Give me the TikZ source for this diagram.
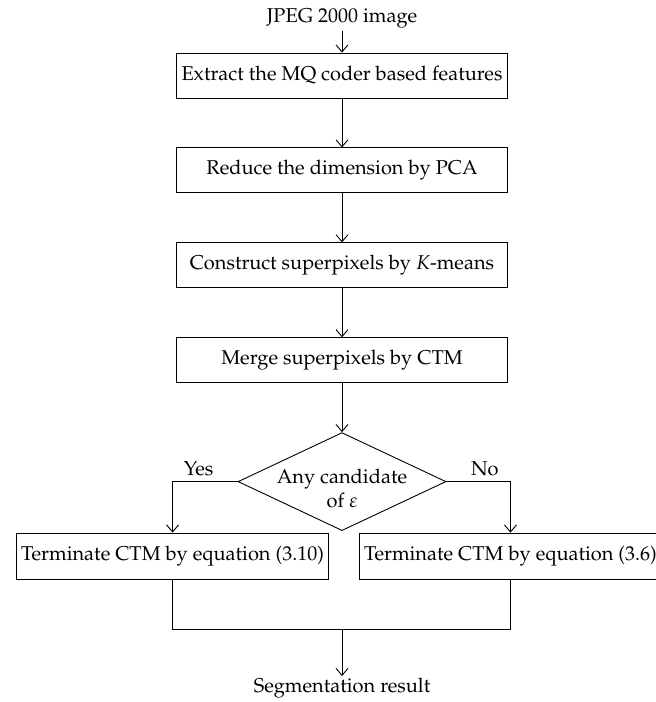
\documentclass[tikz,border=0pt]{standalone}
\usepackage{amssymb,amsmath}
\usepackage[T1]{fontenc}
\usepackage{mathpazo}
\usepackage{tikz}
\usetikzlibrary{arrows.meta, calc, positioning, shapes.geometric}

\begin{document}
\begin{tikzpicture}[
    x=1pt, y=1pt,
    font=\fontsize{20}{24}\selectfont,
    node distance=49pt,
    block/.style={rectangle, draw, line width=0.9pt, minimum width=331pt, minimum height=45pt, align=center},
    endbox/.style={rectangle, draw, line width=0.9pt, minimum height=46pt, inner xsep=5pt, align=center},
    decision/.style={diamond, draw, line width=0.9pt, minimum width=208pt, minimum height=98pt, inner sep=0pt},
    plain/.style={inner sep=2pt},
    arrow/.style={-{Straight Barb[length=7pt, width=12pt]}, line width=0.9pt}]

    \useasboundingbox (0,0) rectangle (656,-702);

    \node[block] (extract) at (342,-75.5) {Extract the MQ coder based features};
    \node[plain, above=22pt of extract] (input) {JPEG 2000 image};

    \node[block, below=of extract] (reduce) {Reduce the dimension by PCA};
    \node[block, below=of reduce] (construct) {Construct superpixels by $K$-means};
    \node[block, below=of construct] (merge) {Merge superpixels by CTM};

    \node[decision, below=of merge,
          label={[align=center, yshift=-7pt]center:Any candidate\\of $\varepsilon$}] (check) {};

    \node[endbox, below=51pt of check.west, xshift=-65pt] (termA) {Terminate CTM by equation (3.10)};
    \node[endbox, below=51pt of check.east, xshift=64pt] (termB) {Terminate CTM by equation (3.6)};

    \coordinate[below=98pt of check.south] (join);
    \node[plain, below=47pt of join] (result) {Segmentation result};

    \draw[arrow] (input) -- (extract);
    \draw[arrow] (extract) -- (reduce);
    \draw[arrow] (reduce) -- (construct);
    \draw[arrow] (construct) -- (merge);
    \draw[arrow] (merge) -- (check);
    \draw[arrow] (check.west) -| (termA.north) node[pos=0.3, above=2pt] {Yes};
    \draw[arrow] (check.east) -| (termB.north) node[pos=0.3, above=2pt] {No};

    \draw[line width=0.9pt] (termA.south) |- (join) -| (termB.south);
    \draw[arrow] (join) -- (result);
\end{tikzpicture}
\end{document}
